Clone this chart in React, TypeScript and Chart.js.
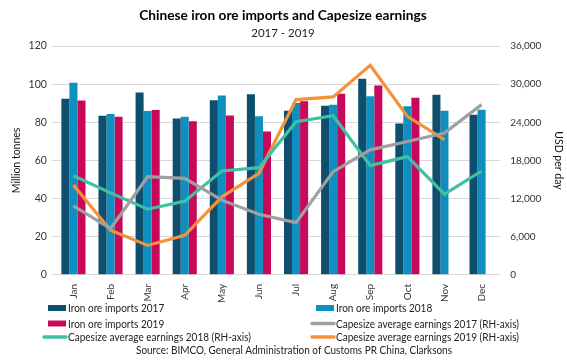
import React, { useEffect, useRef } from "react";
import { Chart, registerables } from "chart.js";

Chart.register(...registerables);

const months = ["Jan", "Feb", "Mar", "Apr", "May", "Jun", "Jul", "Aug", "Sep", "Oct", "Nov", "Dec"];

const imports2017 = [92.3, 83.4, 95.6, 82.0, 91.5, 94.7, 86.1, 88.7, 102.8, 79.4, 94.5, 84.0];
const imports2018 = [100.7, 84.3, 85.9, 82.9, 94.0, 83.1, 90.1, 89.2, 93.6, 88.4, 86.1, 86.6];
const imports2019 = [91.4, 82.9, 86.4, 80.6, 83.6, 75.2, 91.0, 94.9, 99.3, 92.9, null, null];

const earnings2017 = [10850, 7280, 15440, 15180, 11750, 9540, 8220, 16230, 19660, 20970, 22300, 26780];
const earnings2018 = [15600, 12900, 10330, 11590, 16340, 16860, 24100, 25040, 17180, 18600, 12700, 16340];
const earnings2019 = [14130, 7010, 4630, 6220, 12280, 15980, 27570, 28000, 32950, 24930, 21250, null];

const leftTicks = [0, 20, 40, 60, 80, 100, 120];
const rightTicks = [0, 6000, 12000, 18000, 24000, 30000, 36000];

const titleText = "Chinese iron ore imports and Capesize earnings";
const subtitleText = "2017 - 2019";
const sourceText = "Source: BIMCO, General Administration of Customs PR China, Clarksons";

const FONT = "Lato, 'Noto Sans', sans-serif";

const C17 = "#0e4f70";
const C18 = "#0f8fc0";
const C19 = "#c8085a";
const L17 = "#a0a0a0";
const L18 = "#40c0a4";
const L19 = "#f4923a";

// draw text horizontally condensed (to mimic a narrow font)
function condensedText(ctx: any, text: string, x: number, y: number, sx: number, align: string) {
  ctx.save();
  ctx.translate(x, y);
  ctx.scale(sx, 1);
  ctx.textAlign = align;
  ctx.fillText(text, 0, 0);
  ctx.restore();
}

const textPlugin = {
  id: "textPlugin",
  afterDraw(chart: any) {
    const ctx = chart.ctx;
    ctx.save();
    ctx.fillStyle = "#000";
    ctx.textAlign = "center";
    ctx.textBaseline = "middle";
    ctx.font = `bold 13.7px ${FONT}`;
    ctx.fillText(titleText, 283, 16);
    ctx.font = `11.5px ${FONT}`;
    ctx.fillStyle = "#222";
    ctx.fillText(subtitleText, 283, 33);

    // legend
    const cols = [68, 336];
    const rows = [308, 323.5, 337];
    ctx.font = `11.5px ${FONT}`;
    const longest = chart.data.datasets[4].label;
    const sx = 183 / ctx.measureText(longest).width;
    chart.data.datasets.forEach((ds: any, i: number) => {
      const col = i % 2;
      const row = Math.floor(i / 2);
      const tx = cols[col];
      const ty = rows[row];
      if (ds.type === "line") {
        ctx.strokeStyle = ds.borderColor;
        ctx.lineWidth = 3.5;
        ctx.lineCap = "round";
        ctx.beginPath();
        ctx.moveTo(tx - 24, ty);
        ctx.lineTo(tx - 2, ty);
        ctx.stroke();
      } else {
        ctx.fillStyle = ds.backgroundColor;
        ctx.fillRect(tx - 20, ty - 3, 18, 6);
      }
      ctx.fillStyle = "#222";
      condensedText(ctx, ds.label, tx, ty + 0.5, sx, "left");
    });
    const sx2 = 316 / ctx.measureText(sourceText).width;
    condensedText(ctx, sourceText, 294, 350.5, sx2, "center");
    ctx.restore();
  },
};

export default function App() {
  const ref = useRef<HTMLCanvasElement | null>(null);
  useEffect(() => {
    if (!ref.current) return;
    const chart = new Chart(ref.current, {
      type: "bar",
      data: {
        labels: months,
        datasets: [
          { type: "bar", label: "Iron ore imports 2017", data: imports2017, backgroundColor: C17, yAxisID: "y", order: 1 },
          { type: "bar", label: "Iron ore imports 2018", data: imports2018, backgroundColor: C18, yAxisID: "y", order: 1 },
          { type: "bar", label: "Iron ore imports 2019", data: imports2019, backgroundColor: C19, yAxisID: "y", order: 1 },
          { type: "line", label: "Capesize average earnings 2017 (RH-axis)", data: earnings2017, borderColor: L17, backgroundColor: L17, borderWidth: 3.2, pointRadius: 0, yAxisID: "y1", order: 0 },
          { type: "line", label: "Capesize average earnings 2018 (RH-axis)", data: earnings2018, borderColor: L18, backgroundColor: L18, borderWidth: 3.2, pointRadius: 0, yAxisID: "y1", order: 0 },
          { type: "line", label: "Capesize average earnings 2019 (RH-axis)", data: earnings2019, borderColor: L19, backgroundColor: L19, borderWidth: 3.2, pointRadius: 0, yAxisID: "y1", order: 0 },
        ] as any,
      },
      options: {
        animation: false,
        responsive: true,
        maintainAspectRatio: false,
        datasets: { bar: { barPercentage: 1, categoryPercentage: 0.65 } } as any,
        layout: { padding: { top: 46, bottom: 50, left: 9, right: 1 } },
        plugins: { legend: { display: false }, title: { display: false }, tooltip: { enabled: false } },
        scales: {
          x: {
            grid: { display: false, drawTicks: false },
            border: { display: false },
            ticks: { color: "#333", font: { family: FONT, size: 10 }, maxRotation: 90, minRotation: 90, padding: 9 },
          },
          y: {
            position: "left",
            min: 0,
            max: 120,
            afterBuildTicks: (s: any) => { s.ticks = leftTicks.map((v) => ({ value: v })); },
            grid: { color: "#d9d9d9", tickLength: 3 },
            border: { display: false },
            ticks: { color: "#333", font: { family: FONT, size: 10.5 }, padding: 5 },
            title: { display: true, text: "Million tonnes", color: "#111", font: { family: FONT, size: 10.5 }, padding: 1 },
          },
          y1: {
            position: "right",
            min: 0,
            max: 36000,
            afterBuildTicks: (s: any) => { s.ticks = rightTicks.map((v) => ({ value: v })); },
            grid: { display: false, drawTicks: false },
            border: { display: false },
            ticks: { color: "#333", font: { family: FONT, size: 10 }, padding: 10, callback: (v: any) => Number(v).toLocaleString("en-US") },
            title: { display: true, text: "USD per day", color: "#111", font: { family: FONT, size: 10.5 }, padding: 1 },
          },
        },
      },
      plugins: [textPlugin],
    });
    return () => chart.destroy();
  }, []);
  return (
    <div style={{ position: "fixed", left: 0, top: 0, width: 567, height: 362, background: "#fff" }}>
      <canvas ref={ref} />
    </div>
  );
}
